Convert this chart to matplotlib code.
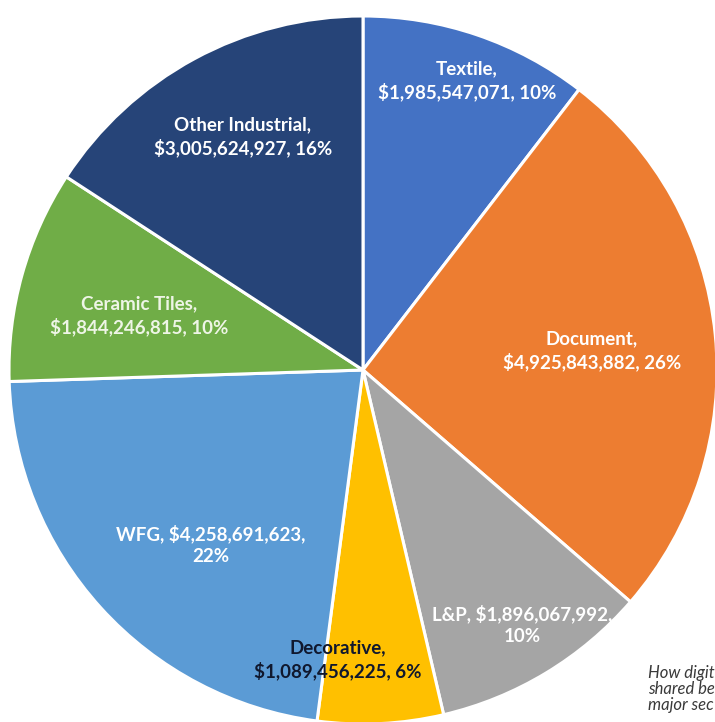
import matplotlib
matplotlib.use("Agg")
import matplotlib.pyplot as plt

categories = ["Textile", "Document", "L&P", "Decorative", "WFG", "Ceramic Tiles", "Other Industrial"]
values = [1985547071, 4925843882, 1896067992, 1089456225, 4258691623, 1844246815, 3005624927]
percents = [10, 26, 10, 6, 22, 10, 16]
colors = ["#4472C4", "#ED7D31", "#A5A5A5", "#FFC000", "#5B9BD5", "#70AD47", "#264478"]
caption = ["How digit", "shared be", "major sec"]

W, H = 715, 722
fig = plt.figure(figsize=(W / 100, H / 100), dpi=100)
ax = fig.add_axes([0, 0, 1, 1])
ax.axis("off")

cx, cy, r = 363, H - 370, 354
ax.pie(values, colors=colors, startangle=90, counterclock=False,
       center=(cx, cy), radius=r,
       wedgeprops=dict(edgecolor="white", linewidth=2.2))
ax.set_xlim(0, W)
ax.set_ylim(0, H)
ax.set_aspect("equal")

def money(v):
    return "${:,}".format(v)

labels = [
    f"{categories[0]},\n{money(values[0])}, {percents[0]}%",
    f"{categories[1]},\n{money(values[1])}, {percents[1]}%",
    f"{categories[2]}, {money(values[2])},\n{percents[2]}%",
    f"{categories[3]},\n{money(values[3])}, {percents[3]}%",
    f"{categories[4]}, {money(values[4])},\n{percents[4]}%",
    f"{categories[5]},\n{money(values[5])}, {percents[5]}%",
    f"{categories[6]},\n{money(values[6])}, {percents[6]}%",
]
pos = [(467, 81), (592, 351), (522, 625), (338, 660), (211, 545), (139, 316), (243, 137)]
tcolors = ["white", "white", "white", "#10182e", "white", "#eef5e6", "white"]
for lab, (x, y), tc in zip(labels, pos, tcolors):
    ax.text(x, H - y, lab, ha="center", va="center", color=tc,
            fontsize=13.5, fontweight="bold", family=["Lato", "DejaVu Sans"],
            linespacing=1.35)

for i, line in enumerate(caption):
    ax.text(648, H - (673 + 16 * i), line, ha="left", va="center",
            fontsize=12, style="italic", color="#3a3a3a", family=["Lato", "DejaVu Sans"])

fig.savefig("out.png", dpi=100)
